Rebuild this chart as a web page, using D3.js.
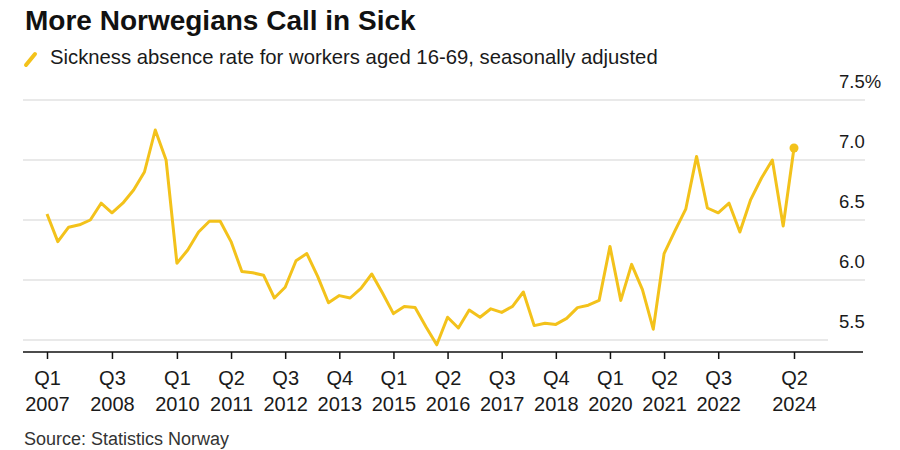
<!DOCTYPE html>
<html>
<head>
<meta charset="utf-8">
<script src="https://cdn.jsdelivr.net/npm/d3@7"></script>
<style>
  html, body { margin: 0; padding: 0; background: #fff; }
  svg { display: block; font-family: "Liberation Sans", Arial, Helvetica, sans-serif; }
</style>
</head>
<body>
<svg id="chart" width="900" height="450"></svg>
<script>
// ---- Data ----
const startYear = 2007;
const quarters = d3.range(70).map(i => "Q" + (i % 4 + 1) + " " + (startYear + Math.floor(i / 4)));
const rates = [
  6.55, 6.32, 6.44, 6.46, 6.50, 6.64, 6.56, 6.64, 6.75, 6.90,
  7.25, 7.00, 6.14, 6.25, 6.40, 6.49, 6.49, 6.32, 6.07, 6.06,
  6.04, 5.85, 5.94, 6.16, 6.22, 6.03, 5.81, 5.87, 5.85, 5.93,
  6.05, 5.89, 5.72, 5.78, 5.77, 5.61, 5.46, 5.69, 5.60, 5.75,
  5.69, 5.76, 5.73, 5.78, 5.90, 5.62, 5.64, 5.63, 5.68, 5.77,
  5.79, 5.83, 6.28, 5.83, 6.13, 5.92, 5.59, 6.22, 6.41, 6.59,
  7.03, 6.60, 6.56, 6.64, 6.40, 6.67, 6.85, 7.00, 6.45, 7.10
];
const xTickLabels = ["Q1 2007","Q3 2008","Q1 2010","Q2 2011","Q3 2012","Q4 2013","Q1 2015",
                     "Q2 2016","Q3 2017","Q4 2018","Q1 2020","Q2 2021","Q3 2022","Q2 2024"];
const yTicks = [5.5, 6.0, 6.5, 7.0, 7.5];

const title = "More Norwegians Call in Sick";
const subtitle = "Sickness absence rate for workers aged 16-69, seasonally adjusted";
const source = "Source: Statistics Norway";

// ---- Layout ----
const svg = d3.select("#chart");
const lineColor = "#f3c21b";

const x = d3.scalePoint().domain(quarters).range([47, 794]);
const y = d3.scaleLinear().domain([5.5, 7.5]).range([340, 100]);

// Title & subtitle
svg.append("text").attr("x", 25).attr("y", 30)
  .attr("font-size", 28).attr("font-weight", "bold").attr("fill", "#111")
  .text(title);
svg.append("line").attr("x1", 26).attr("y1", 65).attr("x2", 35).attr("y2", 54)
  .attr("stroke", lineColor).attr("stroke-width", 4).attr("stroke-linecap", "round");
svg.append("text").attr("x", 50).attr("y", 64)
  .attr("font-size", 20.3).attr("fill", "#1a1a1a")
  .text(subtitle);

// Gridlines
svg.append("g").selectAll("line").data(yTicks).join("line")
  .attr("x1", 23)
  .attr("x2", d => d === 5.5 ? 828 : 865)
  .attr("y1", d => y(d)).attr("y2", d => y(d))
  .attr("stroke", "#e2e2e2").attr("stroke-width", 1.5);

// Y labels (above gridlines, right side)
svg.append("g").selectAll("text").data(yTicks).join("text")
  .attr("x", 839).attr("y", d => y(d) - 12.5)
  .attr("font-size", 18.5).attr("fill", "#1a1a1a")
  .text(d => d3.format(".1f")(d) + (d === 7.5 ? "%" : ""));

// X axis
const xAxis = d3.axisBottom(x)
  .tickValues(xTickLabels)
  .tickSize(7)
  .tickSizeOuter(0)
  .tickFormat(() => "");
const gx = svg.append("g").attr("transform", "translate(0,352)").call(xAxis);
gx.select(".domain").remove();
gx.selectAll(".tick line").attr("stroke", "#111").attr("stroke-width", 1.5);
svg.append("line").attr("x1", 23).attr("x2", 863).attr("y1", 352).attr("y2", 352)
  .attr("stroke", "#111").attr("stroke-width", 1.5);

gx.selectAll(".tick").each(function(d) {
  const parts = d.split(" ");
  const g = d3.select(this);
  g.append("text").attr("y", 33).attr("text-anchor", "middle")
    .attr("font-size", 20).attr("fill", "#1a1a1a").text(parts[0]);
  g.append("text").attr("y", 58.5).attr("text-anchor", "middle")
    .attr("font-size", 20).attr("fill", "#1a1a1a").text(parts[1]);
});

// Line
const line = d3.line()
  .x((d, i) => x(quarters[i]))
  .y(d => y(d));
svg.append("path").datum(rates)
  .attr("d", line)
  .attr("fill", "none")
  .attr("stroke", lineColor)
  .attr("stroke-width", 3)
  .attr("stroke-linejoin", "round");

// End dot
svg.append("circle")
  .attr("cx", x(quarters[quarters.length - 1]))
  .attr("cy", y(rates[rates.length - 1]))
  .attr("r", 4.5)
  .attr("fill", lineColor);

// Source
svg.append("text").attr("x", 24).attr("y", 445)
  .attr("font-size", 18).attr("fill", "#333")
  .text(source);
</script>
</body>
</html>
